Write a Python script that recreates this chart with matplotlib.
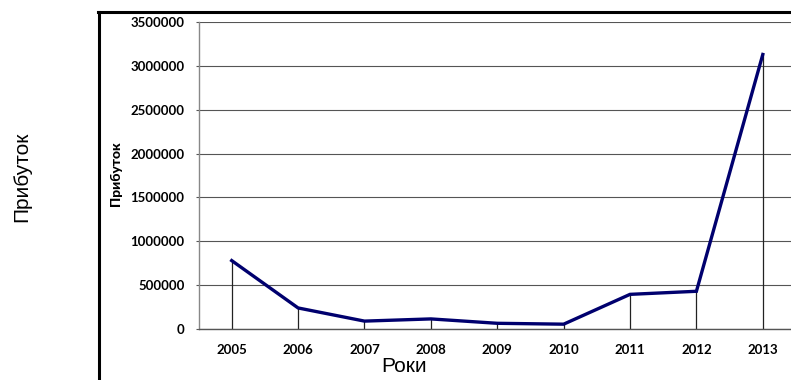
import matplotlib
matplotlib.use('Agg')
from matplotlib import pyplot as plt
from matplotlib.lines import Line2D

years = ['2005', '2006', '2007', '2008', '2009', '2010', '2011', '2012', '2013']
profit = [780000, 240000, 90000, 115000, 65000, 55000, 395000, 430000, 3130000]
y_ticks = [0, 500000, 1000000, 1500000, 2000000, 2500000, 3000000, 3500000]

line_col = (0 / 255, 0 / 255, 110 / 255)
grid_col = '#555555'
tick_font = 'Lato'

fig = plt.figure(figsize=(7.91, 3.80), dpi=100)

# outer chart frame (thick black border, cut at the right/bottom)
fig.add_artist(Line2D([99 / 791, 99 / 791], [0, 1 - 11.5 / 380], color='black', lw=2.2))
fig.add_artist(Line2D([98 / 791, 1.0], [1 - 11.5 / 380, 1 - 11.5 / 380], color='black', lw=2.2))

ax = fig.add_axes([198.5 / 791, 1 - 329 / 380, (796 - 198.5) / 791, (329 - 22) / 380])
x = list(range(len(years)))

ax.vlines(x, 0, profit, color='#222222', lw=0.9, zorder=2)
ax.plot(x, profit, color=line_col, lw=2.4, solid_joinstyle='miter', zorder=3)

ax.set_xlim(-0.5, len(years) - 0.5)
ax.set_ylim(0, 3500000)
ax.set_yticks(y_ticks)
ax.set_yticklabels([str(v) for v in y_ticks], fontfamily=tick_font, fontsize=9.5, fontweight='bold')
ax.set_xticks(x)
ax.set_xticklabels(years, fontfamily=tick_font, fontsize=9.5, fontweight='bold')
ax.tick_params(axis='x', length=0, pad=11)
ax.tick_params(axis='y', length=2.5, width=0.8, color=grid_col, pad=7.5)
ax.grid(axis='y', color=grid_col, lw=0.8)
ax.set_axisbelow(True)
for side in ['top', 'right']:
    ax.spines[side].set_visible(False)
ax.spines['left'].set_color('#888888')
ax.spines['bottom'].set_color(grid_col)
ax.spines['left'].set_linewidth(1.0)
ax.spines['bottom'].set_linewidth(1.0)

ax.set_ylabel('Прибуток', fontfamily=tick_font, fontsize=10, fontweight='black')
ax.yaxis.set_label_coords((122 - 198.5) / (796 - 198.5), (329 - 174) / (329 - 22))

fig.text(22 / 791, 1 - 177 / 380, 'Прибуток', rotation=90, ha='center', va='center',
         fontfamily='Liberation Sans', fontsize=15)
fig.text(404 / 791, 1 - 367 / 380, 'Роки', ha='center', va='center',
         fontfamily='Liberation Sans', fontsize=15)

fig.savefig('out.png', dpi=100)
